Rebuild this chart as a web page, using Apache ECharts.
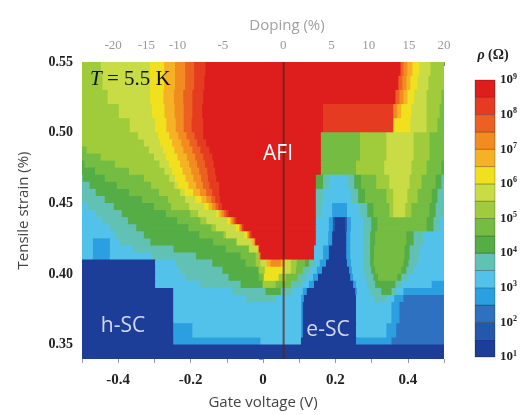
<!DOCTYPE html>
<html>
<head>
<meta charset="utf-8">
<script src="https://cdn.jsdelivr.net/npm/echarts@6/dist/echarts.min.js"></script>
<style>
html,body{margin:0;padding:0;background:#fff;}
#chart{width:521px;height:415px;}
</style>
</head>
<body>
<div id="chart"></div>
<script>
// ---- data ----
// strain edges (%) of the rows of the map, top to bottom
const strainEdges = [0.55, 0.54, 0.53, 0.52, 0.51, 0.50, 0.495, 0.49, 0.485, 0.48, 0.475, 0.47, 0.465, 0.46, 0.455, 0.45, 0.445, 0.44, 0.435, 0.43, 0.425, 0.42, 0.415, 0.41, 0.405, 0.40, 0.395, 0.39, 0.385, 0.38, 0.365, 0.355, 0.35, 0.34];
// per row: runs of [resistivity band index (0 = 10^1..10^1.5, 15 = 10^8.5..10^9), gate voltage where the run ends (V)], starting at -0.5 V
const rowRuns = [
 [[8,-0.447],[9,-0.311],[10,-0.272],[11,-0.242],[12,-0.214],[13,-0.189],[14,-0.158],[15,0.381],[13,0.389],[12,0.4],[11,0.414],[10,0.433],[9,0.464],[8,0.5]],
 [[8,-0.442],[9,-0.311],[10,-0.272],[11,-0.242],[12,-0.214],[13,-0.189],[14,-0.161],[15,0.375],[13,0.386],[12,0.397],[11,0.408],[10,0.428],[9,0.458],[8,0.5]],
 [[8,-0.428],[9,-0.311],[10,-0.274],[11,-0.245],[12,-0.219],[13,-0.194],[14,-0.164],[15,0.367],[13,0.378],[12,0.389],[11,0.4],[10,0.419],[9,0.453],[8,0.494],[7,0.5]],
 [[8,-0.397],[9,-0.306],[10,-0.271],[11,-0.243],[12,-0.218],[13,-0.194],[14,-0.167],[15,0.167],[14,0.361],[12,0.372],[11,0.383],[10,0.411],[9,0.453],[8,0.489],[7,0.5]],
 [[8,-0.367],[9,-0.297],[10,-0.266],[11,-0.24],[12,-0.218],[13,-0.196],[14,-0.164],[15,0.167],[14,0.361],[10,0.408],[9,0.453],[8,0.483],[7,0.5]],
 [[8,-0.344],[9,-0.289],[10,-0.258],[11,-0.233],[12,-0.21],[13,-0.188],[14,-0.164],[15,0.161],[7,0.269],[8,0.342],[9,0.417],[8,0.461],[7,0.5]],
 [[8,-0.328],[9,-0.283],[10,-0.25],[11,-0.225],[12,-0.202],[13,-0.181],[14,-0.156],[15,0.161],[7,0.269],[8,0.342],[9,0.417],[8,0.461],[7,0.5]],
 [[7,-0.486],[8,-0.314],[9,-0.275],[10,-0.244],[11,-0.219],[12,-0.194],[13,-0.172],[14,-0.147],[15,0.161],[7,0.269],[8,0.342],[9,0.417],[8,0.461],[7,0.5]],
 [[7,-0.447],[8,-0.3],[9,-0.267],[10,-0.235],[11,-0.209],[12,-0.186],[13,-0.164],[14,-0.139],[15,0.161],[7,0.269],[8,0.342],[9,0.417],[8,0.461],[7,0.5]],
 [[6,-0.492],[7,-0.408],[8,-0.285],[9,-0.259],[10,-0.228],[11,-0.203],[12,-0.181],[13,-0.159],[14,-0.135],[15,0.161],[7,0.258],[8,0.336],[9,0.411],[8,0.453],[7,0.494],[6,0.5]],
 [[6,-0.463],[7,-0.369],[8,-0.271],[9,-0.25],[10,-0.221],[11,-0.197],[12,-0.175],[13,-0.153],[14,-0.131],[15,0.161],[7,0.258],[8,0.336],[9,0.411],[8,0.453],[7,0.494],[6,0.5]],
 [[5,-0.497],[6,-0.436],[7,-0.328],[8,-0.258],[9,-0.242],[10,-0.213],[11,-0.191],[12,-0.17],[13,-0.151],[14,-0.128],[15,0.147],[6,0.167],[5,0.183],[4,0.236],[5,0.253],[6,0.272],[7,0.314],[8,0.35],[9,0.406],[8,0.439],[7,0.478],[6,0.494],[5,0.5]],
 [[5,-0.478],[6,-0.403],[7,-0.308],[8,-0.244],[9,-0.233],[10,-0.205],[11,-0.184],[12,-0.165],[13,-0.147],[14,-0.12],[15,0.147],[6,0.167],[5,0.183],[4,0.236],[5,0.253],[6,0.272],[7,0.314],[8,0.35],[9,0.406],[8,0.439],[7,0.478],[6,0.494],[5,0.5]],
 [[5,-0.461],[6,-0.369],[7,-0.286],[8,-0.228],[9,-0.216],[10,-0.192],[11,-0.173],[12,-0.156],[13,-0.139],[14,-0.12],[15,0.147],[5,0.167],[4,0.244],[5,0.264],[6,0.283],[7,0.342],[8,0.361],[9,0.4],[8,0.428],[7,0.467],[6,0.483],[5,0.5]],
 [[5,-0.436],[6,-0.333],[7,-0.261],[8,-0.214],[9,-0.186],[10,-0.169],[11,-0.155],[12,-0.142],[13,-0.131],[14,-0.117],[15,0.147],[5,0.167],[4,0.244],[5,0.264],[6,0.283],[7,0.342],[8,0.361],[9,0.4],[8,0.428],[7,0.467],[6,0.483],[5,0.5]],
 [[4,-0.483],[5,-0.411],[6,-0.3],[7,-0.253],[8,-0.203],[9,-0.161],[10,-0.149],[11,-0.139],[12,-0.13],[13,-0.122],[14,-0.112],[15,0.147],[5,0.161],[4,0.192],[3,0.233],[4,0.267],[5,0.289],[6,0.306],[7,0.35],[8,0.361],[9,0.394],[8,0.411],[7,0.461],[6,0.478],[5,0.5]],
 [[4,-0.461],[5,-0.389],[6,-0.267],[7,-0.2],[8,-0.178],[9,-0.128],[10,-0.121],[11,-0.114],[12,-0.107],[13,-0.101],[14,-0.094],[15,0.147],[5,0.161],[4,0.192],[3,0.233],[4,0.267],[5,0.289],[6,0.306],[7,0.35],[8,0.361],[9,0.394],[8,0.411],[7,0.461],[6,0.478],[5,0.5]],
 [[4,-0.442],[5,-0.372],[6,-0.236],[7,-0.172],[8,-0.155],[9,-0.097],[10,-0.09],[11,-0.086],[12,-0.081],[13,-0.077],[14,-0.072],[15,0.147],[4,0.183],[3,0.194],[1,0.2],[0,0.228],[1,0.233],[3,0.244],[4,0.278],[5,0.3],[6,0.317],[7,0.453],[6,0.472],[5,0.489],[4,0.5]],
 [[4,-0.422],[5,-0.349],[6,-0.205],[7,-0.141],[8,-0.129],[9,-0.074],[10,-0.064],[12,-0.058],[14,-0.052],[15,0.147],[4,0.183],[3,0.194],[1,0.2],[0,0.228],[1,0.233],[3,0.244],[4,0.278],[5,0.3],[6,0.317],[7,0.453],[6,0.472],[5,0.489],[4,0.5]],
 [[4,-0.406],[5,-0.328],[6,-0.175],[7,-0.108],[8,-0.101],[9,-0.05],[10,-0.042],[12,-0.036],[14,-0.03],[15,0.147],[4,0.181],[3,0.192],[0,0.231],[3,0.242],[4,0.278],[5,0.297],[6,0.311],[7,0.397],[6,0.417],[5,0.444],[4,0.5]],
 [[4,-0.469],[3,-0.422],[4,-0.394],[5,-0.31],[6,-0.137],[7,-0.072],[9,-0.029],[11,-0.022],[14,-0.019],[15,0.147],[4,0.181],[3,0.192],[0,0.231],[3,0.242],[4,0.278],[5,0.297],[6,0.311],[7,0.397],[6,0.417],[5,0.444],[4,0.5]],
 [[4,-0.469],[3,-0.422],[4,-0.358],[5,-0.246],[6,-0.102],[7,-0.038],[9,-0.013],[12,-0.01],[15,0.142],[4,0.167],[3,0.183],[0,0.231],[3,0.242],[4,0.278],[5,0.297],[6,0.308],[7,0.392],[6,0.406],[5,0.433],[4,0.5]],
 [[4,-0.469],[3,-0.422],[4,-0.308],[5,-0.184],[6,-0.061],[7,-0.019],[8,-0.011],[12,-0.006],[15,0.142],[4,0.167],[3,0.183],[0,0.231],[3,0.242],[4,0.278],[5,0.297],[6,0.308],[7,0.392],[6,0.406],[5,0.433],[4,0.5]],
 [[0,-0.297],[4,-0.242],[5,-0.139],[6,-0.047],[7,-0.019],[8,-0.006],[9,0.011],[11,0.022],[12,0.05],[11,0.061],[9,0.078],[8,0.094],[7,0.117],[6,0.128],[5,0.144],[4,0.158],[3,0.175],[0,0.233],[3,0.244],[4,0.278],[5,0.297],[6,0.306],[7,0.389],[6,0.403],[5,0.428],[4,0.5]],
 [[0,-0.297],[4,-0.228],[5,-0.111],[6,-0.011],[8,0.006],[10,0.056],[9,0.078],[8,0.092],[7,0.111],[5,0.133],[4,0.15],[3,0.164],[0,0.239],[3,0.247],[4,0.278],[5,0.3],[6,0.311],[7,0.383],[6,0.397],[5,0.417],[4,0.5]],
 [[0,-0.297],[4,-0.214],[5,-0.094],[6,-0.011],[7,0.003],[10,0.044],[8,0.064],[7,0.097],[5,0.119],[4,0.139],[3,0.153],[0,0.242],[3,0.25],[4,0.283],[5,0.306],[6,0.319],[7,0.372],[6,0.383],[5,0.4],[4,0.5]],
 [[0,-0.297],[4,-0.172],[5,-0.061],[6,0],[8,0.036],[7,0.078],[5,0.106],[4,0.128],[3,0.142],[0,0.25],[3,0.258],[4,0.289],[5,0.311],[6,0.367],[5,0.383],[4,0.467],[3,0.5]],
 [[0,-0.247],[4,-0.083],[5,0.008],[6,0.05],[5,0.083],[4,0.111],[3,0.122],[0,0.256],[3,0.261],[4,0.294],[5,0.328],[6,0.356],[5,0.369],[4,0.389],[3,0.5]],
 [[0,-0.247],[4,-0.047],[5,0.036],[4,0.106],[3,0.114],[0,0.258],[4,0.306],[5,0.342],[4,0.364],[3,0.389],[2,0.5]],
 [[0,-0.247],[4,0.106],[3,0.111],[0,0.258],[4,0.356],[3,0.378],[2,0.5]],
 [[0,-0.247],[3,-0.194],[4,0.106],[3,0.111],[0,0.258],[4,0.342],[3,0.369],[2,0.5]],
 [[0,-0.247],[3,-0.006],[4,0.106],[0,0.258],[3,0.356],[2,0.5]],
 [[0,0.5]]
];
// colour scale levels, log10(rho / Ohm)
const colorbarLevels = [1, 1.5, 2, 2.5, 3, 3.5, 4, 4.5, 5, 5.5, 6, 6.5, 7, 7.5, 8, 8.5, 9];
const colorbarExponents = [1, 2, 3, 4, 5, 6, 7, 8, 9];
// bottom axis ticks (gate voltage, V)
const gateTickLabels = [-0.4, -0.2, 0, 0.2, 0.4];
// top axis: doping (%) labels and the gate voltage where each sits
const dopingLabels = ['-20', '-15', '-10', '-5', '0', '5', '10', '15', '20'];
const dopingAtVoltage = [-0.414, -0.322, -0.236, -0.111, 0.056, 0.189, 0.292, 0.403, 0.5];
// left axis labelled strain values (%)
const strainTickLabels = [0.35, 0.40, 0.45, 0.50, 0.55];
// charge neutrality line (V)
const cnpVoltage = 0.057;

// ---- styles ----
const bandColors = ['#1c3e98','#2458ad','#2e71c1','#2c9fe0','#53c2ea','#62c1b5','#55ad45','#74bd42','#a0cc3c','#c9dc46','#f1e01e','#f5b225','#f28b20','#ec6021','#e53b20','#dd1e1d'];
const serif = 'Liberation Serif';
const sans = 'Open Sans';

const cells = [];
rowRuns.forEach((runs, i) => {
  let x = -0.5;
  runs.forEach(([b, xe]) => {
    cells.push([x, xe, strainEdges[i + 1], strainEdges[i], b]);
    x = xe;
  });
});
const bars = [];
for (let k = 0; k < colorbarLevels.length - 1; k++) {
  bars.push([0, 1, colorbarLevels[k], colorbarLevels[k + 1], k]);
}

const chart = echarts.init(document.getElementById('chart'), null, {renderer: 'canvas'});
const option = {
  animation: false,
  backgroundColor: '#fff',
  grid: [
    {left: 82, top: 62, width: 362, height: 304},
    {left: 475, top: 80, width: 20, height: 277}
  ],
  xAxis: [
    {
      gridIndex: 0, type: 'value', min: -0.5, max: 0.5, interval: 0.1, position: 'bottom',
      axisLine: {show: false}, splitLine: {show: false},
      axisTick: {show: true, length: 4, lineStyle: {color: '#999'}},
      axisLabel: {
        margin: 14, fontFamily: serif, fontWeight: 'bold', fontSize: 15, color: '#222',
        formatter: v => {
          const hit = gateTickLabels.find(t => Math.abs(t - v) < 1e-6);
          if (hit === undefined) return '';
          return hit === 0 ? '0' : hit.toFixed(1);
        }
      },
      name: 'Gate voltage (V)', nameLocation: 'middle', nameGap: 36,
      nameTextStyle: {fontFamily: sans, fontSize: 15, color: '#444'}
    },
    {
      gridIndex: 0, type: 'value', min: -0.5, max: 0.5, position: 'top',
      axisLine: {show: false}, splitLine: {show: false},
      axisTick: {show: true, inside: true, length: 4, customValues: dopingAtVoltage, lineStyle: {color: '#888'}},
      axisLabel: {
        customValues: dopingAtVoltage, margin: 10, fontFamily: serif, fontSize: 13, color: '#999',
        showMinLabel: true, showMaxLabel: true,
        formatter: v => {
          const i = dopingAtVoltage.findIndex(t => Math.abs(t - v) < 1e-6);
          return i >= 0 ? dopingLabels[i] : '';
        }
      },
      name: 'Doping (%)', nameLocation: 'middle', nameGap: 29,
      nameTextStyle: {fontFamily: sans, fontSize: 15, color: '#a0a0a0', padding: [0, 0, 0, 48]}
    },
    {gridIndex: 1, type: 'value', min: 0, max: 1, show: false}
  ],
  yAxis: [
    {
      gridIndex: 0, type: 'value', min: 0.34, max: 0.55, interval: 0.01,
      axisLine: {show: false}, splitLine: {show: false},
      axisTick: {show: true, length: 4, lineStyle: {color: '#999'}},
      axisLabel: {
        margin: 9, fontFamily: serif, fontWeight: 'bold', fontSize: 14, color: '#222',
        formatter: v => {
          const hit = strainTickLabels.find(t => Math.abs(t - v) < 1e-6);
          return hit === undefined ? '' : hit.toFixed(2);
        }
      },
      name: 'Tensile strain (%)', nameLocation: 'middle', nameGap: 51, nameRotate: 90,
      nameTextStyle: {fontFamily: sans, fontSize: 15, color: '#444'}
    },
    {
      gridIndex: 1, type: 'value', min: 1, max: 9, interval: 1, position: 'right',
      axisLine: {show: false}, axisTick: {show: false}, splitLine: {show: false},
      axisLabel: {
        margin: 5,
        formatter: v => colorbarExponents.indexOf(v) >= 0 ? '{b|10}{s|' + v + '}' : '',
        rich: {
          b: {fontFamily: serif, fontWeight: 'bold', fontSize: 13, color: '#222'},
          s: {fontFamily: serif, fontWeight: 'bold', fontSize: 8, color: '#222', padding: [0, 0, 7, 0]}
        }
      }
    }
  ],
  series: [
    {
      type: 'custom', xAxisIndex: 0, yAxisIndex: 0, clip: true,
      encode: {x: [0, 1], y: [2, 3]},
      data: cells,
      renderItem: (params, api) => {
        const p0 = api.coord([api.value(0), api.value(3)]);
        const p1 = api.coord([api.value(1), api.value(2)]);
        return {
          type: 'rect',
          shape: {x: p0[0] - 0.4, y: p0[1] - 0.4, width: p1[0] - p0[0] + 0.8, height: p1[1] - p0[1] + 0.8},
          style: {fill: bandColors[api.value(4)]}
        };
      },
      silent: true, z: 1
    },
    {
      type: 'line', xAxisIndex: 0, yAxisIndex: 0,
      data: [[cnpVoltage, 0.34], [cnpVoltage, 0.55]],
      symbol: 'none', silent: true, z: 3,
      lineStyle: {color: 'rgba(85,35,25,0.7)', width: 2}
    },
    {
      type: 'custom', xAxisIndex: 2, yAxisIndex: 1,
      encode: {x: [0, 1], y: [2, 3]},
      data: bars,
      renderItem: (params, api) => {
        const p0 = api.coord([api.value(0), api.value(3)]);
        const p1 = api.coord([api.value(1), api.value(2)]);
        return {
          type: 'rect',
          shape: {x: p0[0], y: p0[1], width: p1[0] - p0[0], height: p1[1] - p0[1]},
          style: {fill: bandColors[api.value(4)], stroke: 'rgba(0,0,0,0.3)', lineWidth: 0.8}
        };
      },
      silent: true
    }
  ],
  graphic: [
    {type: 'text', x: 90, y: 79, z: 10, style: {
      text: '{i|T} = 5.5 K', fontFamily: serif, fontSize: 21, fill: '#111', verticalAlign: 'middle',
      rich: {i: {fontFamily: serif, fontSize: 21, fontStyle: 'italic', fill: '#111'}}
    }},
    {type: 'text', x: 278, y: 154, z: 10, style: {text: 'AFI', fontFamily: sans, fontSize: 21, fill: '#ffffff', align: 'center', verticalAlign: 'middle'}},
    {type: 'text', x: 123, y: 326, z: 10, style: {text: 'h-SC', fontFamily: sans, fontSize: 21, fill: '#d2d8f2', align: 'center', verticalAlign: 'middle'}},
    {type: 'text', x: 328, y: 330, z: 10, style: {text: 'e-SC', fontFamily: sans, fontSize: 21, fill: '#d2d8f2', align: 'center', verticalAlign: 'middle'}},
    {type: 'text', x: 493, y: 55, z: 10, style: {
      text: '{i|ρ} (Ω)', fontFamily: serif, fontWeight: 'bold', fontSize: 14, fill: '#222', align: 'center', verticalAlign: 'middle',
      rich: {i: {fontFamily: serif, fontWeight: 'bold', fontStyle: 'italic', fontSize: 14, fill: '#222'}}
    }}
  ]
};
chart.setOption(option);
</script>
</body>
</html>
